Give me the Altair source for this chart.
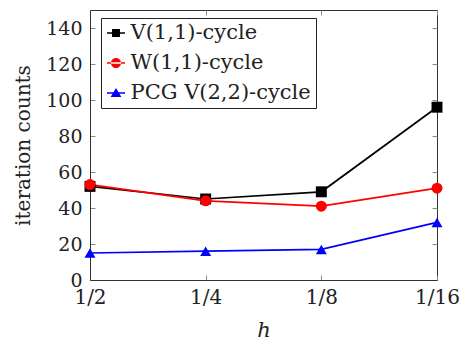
import altair as alt
import pandas as pd

h_labels = ["1/2", "1/4", "1/8", "1/16"]
v11 = [52, 45, 49, 96]
w11 = [53, 44, 41, 51]
pcg22 = [15, 16, 17, 32]
series_names = ["V(1,1)-cycle", "W(1,1)-cycle", "PCG V(2,2)-cycle"]
colors = ["#000000", "#ff0000", "#0000ff"]
shapes = ["square", "circle", "triangle-up"]
y_ticks = [0, 20, 40, 60, 80, 100, 120, 140]

rows = []
for name, vals in zip(series_names, [v11, w11, pcg22]):
    for h, v in zip(h_labels, vals):
        rows.append({"h": h, "count": v, "series": name})
df = pd.DataFrame(rows)

W, H = 347, 270
FONT = "DejaVu Serif"

# legend symbols: a short line with the marker in its middle
line_path = "M-1,-0.08L1,-0.08L1,0.08L-1,0.08Z"
legend_paths = [
    line_path + "M-0.44,-0.44L0.44,-0.44L0.44,0.44L-0.44,0.44Z",
    line_path + "M-0.56,0A0.56,0.56 0 1,0 0.56,0A0.56,0.56 0 1,0 -0.56,0Z",
    line_path + "M0,-0.55L0.6,0.45L-0.6,0.45Z",
]

legend = alt.Legend(
    title=None,
    orient="none",
    legendX=11,
    legendY=8,
    strokeColor="#222222",
    fillColor="white",
    padding=4.5,
    rowPadding=8,
    labelFont=FONT,
    labelFontSize=21,
    labelColor="#222222",
    labelOffset=4,
    labelLimit=400,
    symbolSize=324,
    symbolStrokeWidth=0,
)

x_enc = alt.X(
    "h:N", sort=h_labels,
    scale=alt.Scale(type="point", padding=0),
    axis=alt.Axis(
        title="h", labelAngle=0, ticks=False,
        grid=True, gridDash=[5, H - 10, 5], gridColor="#888888", gridWidth=1, gridOpacity=1,
        domainColor="#333333", labelPadding=7,
        labelFont=FONT, labelFontSize=20, labelColor="#222222",
        titleFont=FONT, titleFontSize=21, titleFontStyle="italic",
        titleColor="#222222", titlePadding=12,
    ),
)
y_enc = alt.Y(
    "count:Q",
    scale=alt.Scale(domain=[0, 150], nice=False, zero=True),
    axis=alt.Axis(
        title="iteration counts", values=y_ticks, ticks=False,
        grid=True, gridDash=[5, W - 10, 5], gridColor="#888888", gridWidth=1, gridOpacity=1,
        domainColor="#333333", labelPadding=8,
        labelFont=FONT, labelFontSize=19, labelColor="#222222",
        titleFont=FONT, titleFontSize=20,
        titleColor="#222222", titlePadding=12,
    ),
)
color_scale = alt.Scale(domain=series_names, range=colors)

base = alt.Chart(df).encode(x=x_enc, y=y_enc)
lines = base.mark_line(strokeWidth=1.7).encode(
    color=alt.Color("series:N", scale=color_scale, legend=None)
)
points = base.mark_point(filled=True, opacity=1, size=120).encode(
    color=alt.Color("series:N", scale=color_scale, legend=None),
    shape=alt.Shape("series:N", scale=alt.Scale(domain=series_names, range=shapes), legend=None),
)
legend_layer = base.transform_filter("datum.count < 0").mark_point(
    filled=True, opacity=1, size=324
).encode(
    color=alt.Color("series:N", scale=color_scale, legend=legend),
    shape=alt.Shape("series:N", scale=alt.Scale(domain=series_names, range=legend_paths), legend=legend),
)

chart = alt.layer(lines, points, legend_layer).resolve_scale(
    color="independent", shape="independent"
).resolve_legend(color="independent", shape="independent").properties(
    width=W, height=H,
    autosize=alt.AutoSizeParams(type="none"),
    padding={"left": 90, "top": 10, "right": 25, "bottom": 73},
).configure(
    font=FONT, background="white"
).configure_view(
    stroke="#333333", strokeWidth=1
).configure_axis(
    titleFontWeight="normal"
)

chart.save("out.html", embed_options={"renderer": "svg", "actions": False})
